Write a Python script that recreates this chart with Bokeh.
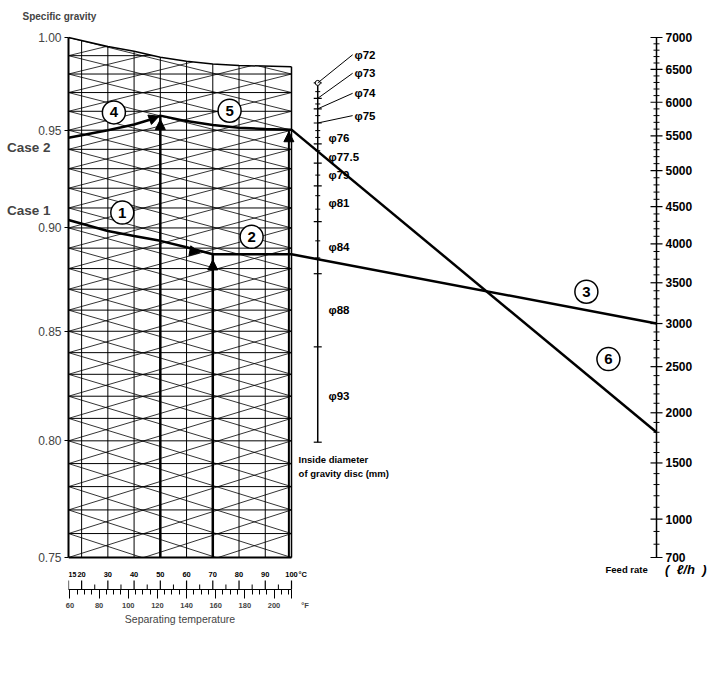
import math
import numpy as np
from bokeh.plotting import figure
from bokeh.models import (Range1d, LinearAxis, FixedTicker, CustomJSTickFormatter, Arrow, NormalHead)
from bokeh.core.properties import value
from bokeh.embed import file_html
from bokeh.resources import INLINE

FONT = "Liberation Sans"
NBSP = "\u00a0"

# specific gravity scale (log) and chart grid
sg_ticks = [0.75, 0.80, 0.85, 0.90, 0.95, 1.00]
sg_rows = [0.76, 0.77, 0.78, 0.79, 0.80, 0.81, 0.82, 0.83, 0.84, 0.85, 0.86, 0.87,
           0.88, 0.89, 0.90, 0.91, 0.92, 0.93, 0.94, 0.95, 0.96, 0.97, 0.98, 0.99]
hatch_rows = [0.72, 0.73, 0.74, 0.75] + sg_rows + [1.00, 1.01, 1.02]
hatch_drop = 0.03
grid_temps = [20, 30, 40, 50, 60, 70, 80, 90]

# upper boundary of the chart (sg vs temperature)
top_t = [15, 30, 40, 50, 60, 70, 80, 100]
top_sg = [1.000, 0.9950, 0.9924, 0.9891, 0.9870, 0.9855, 0.9846, 0.9840]

# temperature scales
temp_c_major = [15, 20, 30, 40, 50, 60, 70, 80, 90, 100]
temp_c_minor = [25, 35, 45, 55, 65, 75, 85, 95]
temp_f_major = [60, 80, 100, 120, 140, 160, 180, 200, 212]
temp_f_minor = [65, 70, 75, 85, 90, 95, 105, 110, 115, 125, 130, 135, 145, 150, 155,
                165, 170, 175, 185, 190, 195, 205, 210]

# feed rate scale (l/h)
feed_major = [700, 1000, 1500, 2000, 2500, 3000, 3500, 4000, 4500, 5000, 5500, 6000, 6500, 7000]
feed_minor = [q for q in range(800, 7000, 100) if q % 500 != 0]

# gravity disc scale, read as positions on the sg scale
disc_major_sg = [0.9752, 0.9669, 0.9613, 0.9538, 0.9428, 0.9329, 0.9212, 0.9032, 0.8775, 0.8427, 0.7994]
disc_minor_sg = [0.9705, 0.9639, 0.9577, 0.9498, 0.9462, 0.9393, 0.9267, 0.9162, 0.9094, 0.8936, 0.8852]
disc_labels = ["φ72", "φ73", "φ74", "φ75", "φ76", "φ77.5", "φ79", "φ81", "φ84", "φ88", "φ93"]
disc_label_sg = [0.9905, 0.9804, 0.9696, 0.9577, 0.9457, 0.9362, 0.9267, 0.9125, 0.8906, 0.8599, 0.8203]

# worked examples
case_names = ["Case 2", "Case 1"]
case_label_sg = [0.9410, 0.9085]
case1_t = [15, 30, 40, 50, 60, 70, 100]
case1_sg = [0.904, 0.8985, 0.896, 0.8936, 0.8904, 0.887, 0.887]
case1_temp = 70
case1_feed = 3000
case2_t = [15, 30, 40, 46, 50]
case2_sg = [0.946, 0.950, 0.953, 0.9555, 0.9577]
case2b_t = [50, 60, 70, 80, 90, 100]
case2b_sg = [0.9577, 0.9548, 0.9527, 0.9513, 0.9506, 0.9503]
case2_temp = 50
case2_feed = 1800

T_MIN, T_MAX = 15, 100
BOX_W = 223                      # px between 15 and 100 degC
FRAME_W, CHART_H = 652, 520      # px; CHART_H spans sg 0.75 .. 1.00
FLOOR_GAP, ROOF_GAP = 32, 8      # px of frame below sg 0.75 and above sg 1.00
T_END = T_MIN + FRAME_W * (T_MAX - T_MIN) / BOX_W
T_FEED = 239.13                  # feed rate scale
DISC_T = 110                     # gravity disc scale
K = math.log(1 / 0.75) / CHART_H


def dx(px):
    return px * (T_MAX - T_MIN) / BOX_W


def sg_below(px):
    # sg-scale position a number of pixels under the chart floor
    return 0.75 * math.exp(-px * K)


def feed_pos(q):
    return q ** (2 / 3)


def feed_to_sg(q):
    frac = (feed_pos(q) - feed_pos(700)) / (feed_pos(7000) - feed_pos(700))
    return math.exp(math.log(0.75) * (1 - frac))


def top_at(t):
    return np.interp(t, top_t, top_sg)


def clip_hatch(y0, y1):
    # keep the part of a hatch line (15 -> 100 degC) lying inside the chart box
    s = np.linspace(0, 1, 801)
    t = T_MIN + (T_MAX - T_MIN) * s
    ly = math.log(y0) + (math.log(y1) - math.log(y0)) * s
    inside = np.nonzero((ly >= math.log(0.75)) & (ly <= np.log(top_at(t))))[0]
    if len(inside) < 2:
        return None
    i0, i1 = inside[0], inside[-1]
    return t[i0], math.exp(ly[i0]), t[i1], math.exp(ly[i1])


Y_BOTTOM = sg_below(FLOOR_GAP)
Y_TOP = math.exp(ROOF_GAP * K)

p = figure(width=720, height=29 + CHART_H + FLOOR_GAP + ROOF_GAP + 45,
           x_range=Range1d(T_MIN, T_END), y_range=Range1d(Y_BOTTOM, Y_TOP),
           y_axis_type="log", x_axis_location=None, output_backend="svg", toolbar_location=None,
           min_border_left=68, min_border_right=0, min_border_top=29, min_border_bottom=45)
p.outline_line_color = None
p.grid.visible = False

p.title.text = "Specific gravity"
p.title.align = "left"
p.title.offset = -46
p.title.standoff = 15
p.title.text_font = FONT
p.title.text_font_size = "10px"
p.title.text_font_style = "bold"

# left axis: specific gravity
ya = p.yaxis[0]
ya.ticker = FixedTicker(ticks=sg_ticks)
ya.formatter = CustomJSTickFormatter(code="return tick.toFixed(2)")
ya.bounds = (0.75, 1.0)
ya.axis_line_width = 2
ya.major_tick_out = 4
ya.major_tick_in = 0
ya.minor_tick_out = 0
ya.minor_tick_in = 0
ya.major_label_standoff = 3
ya.major_label_text_font = FONT
ya.major_label_text_font_size = "12px"

# case names, tucked in next to the sg labels
case_ax = LinearAxis(ticker=FixedTicker(ticks=case_label_sg),
                     major_label_overrides=dict(zip(case_label_sg, case_names)),
                     axis_line_color=None, major_tick_line_color=None,
                     major_tick_out=0, major_tick_in=0, minor_tick_out=0, minor_tick_in=0,
                     major_label_standoff=-15, major_label_text_font=FONT,
                     major_label_text_font_size="13.5px", major_label_text_font_style="bold")
p.add_layout(case_ax, "left")

# fahrenheit scale under the temperature line
p.extra_x_ranges = {"degF": Range1d(T_MIN * 1.8 + 32, T_END * 1.8 + 32)}
ax_f = LinearAxis(x_range_name="degF",
                  ticker=FixedTicker(ticks=temp_f_major, minor_ticks=temp_f_minor),
                  bounds=(59, 212), major_label_overrides={212: NBSP * 13 + "°F"},
                  axis_line_width=1.2,
                  major_tick_out=9, major_tick_in=0, minor_tick_out=5, minor_tick_in=0,
                  major_label_standoff=2, major_label_text_font=FONT,
                  major_label_text_font_size="7.5px", major_label_text_font_style="bold")
p.add_layout(ax_f, "below")

# scale title, centred under the temperature scale
ax_sep = LinearAxis(ticker=FixedTicker(ticks=[57.5]),
                    major_label_overrides={57.5: "Separating temperature"},
                    axis_line_color=None, major_tick_line_color=None,
                    major_tick_out=0, major_tick_in=0, minor_tick_out=0, minor_tick_in=0,
                    major_label_standoff=0, major_label_text_font=FONT,
                    major_label_text_font_size="10.5px")
p.add_layout(ax_sep, "below")

# chart grid, cut at the top curve
p.segment(x0=T_MIN, y0=sg_rows, x1=T_MAX, y1=sg_rows, line_color="black", line_width=1)
p.segment(x0=grid_temps, y0=0.75, x1=grid_temps, y1=[float(top_at(t)) for t in grid_temps],
          line_color="black", line_width=1)
hatch = [clip_hatch(s, s + d) for s in hatch_rows for d in (-hatch_drop, hatch_drop)]
hatch = [h for h in hatch if h is not None]
p.segment(x0=[h[0] for h in hatch], y0=[h[1] for h in hatch],
          x1=[h[2] for h in hatch], y1=[h[3] for h in hatch],
          line_color="black", line_width=0.8)

# blank out above the top curve, then draw the box edges
p.patch(x=top_t + [T_MAX + 0.5, T_MAX + 0.5, T_MIN], y=top_sg + [top_sg[-1], Y_TOP, Y_TOP],
        fill_color="white", line_color=None)
p.line(top_t, top_sg, line_color="black", line_width=1.5)
p.segment(x0=T_MAX, y0=0.75, x1=T_MAX, y1=top_sg[-1], line_color="black", line_width=1.5)
p.segment(x0=T_MIN, y0=0.75, x1=T_MAX, y1=0.75, line_color="black", line_width=2)

# celsius ticks and labels above the temperature line
p.segment(x0=temp_c_major, y0=Y_BOTTOM, x1=temp_c_major, y1=sg_below(FLOOR_GAP - 9),
          line_color="black", line_width=1.2)
p.segment(x0=temp_c_minor, y0=Y_BOTTOM, x1=temp_c_minor, y1=sg_below(FLOOR_GAP - 5),
          line_color="black", line_width=1)
p.text(x=[T_MIN], y=[sg_below(17)], text=[str(temp_c_major[0])],
       text_font=value(FONT), text_font_size="7px", text_font_style="bold",
       text_align="left", text_baseline="middle", text_color="black")
p.text(x=temp_c_major[1:], y=sg_below(17), text=[str(t) for t in temp_c_major[1:]],
       text_font=value(FONT), text_font_size="7.5px", text_font_style="bold",
       text_align="center", text_baseline="middle", text_color="black")
p.text(x=[T_MAX + dx(7)], y=[sg_below(17)], text=["°C"], text_font=value(FONT),
       text_font_size="7.5px", text_font_style="bold", text_align="left",
       text_baseline="middle", text_color="black")

# feed rate scale
feed_major_sg = [feed_to_sg(q) for q in feed_major]
feed_minor_sg = [feed_to_sg(q) for q in feed_minor]
p.segment(x0=T_FEED, y0=feed_major_sg[0], x1=T_FEED, y1=feed_major_sg[-1], line_color="black", line_width=1.5)
p.segment(x0=T_FEED - dx(6), y0=feed_major_sg, x1=T_FEED + dx(6), y1=feed_major_sg,
          line_color="black", line_width=1.2)
p.segment(x0=T_FEED - dx(3), y0=feed_minor_sg, x1=T_FEED + dx(3), y1=feed_minor_sg,
          line_color="black", line_width=1)
p.text(x=T_FEED + dx(9), y=feed_major_sg, text=[str(q) for q in feed_major],
       text_font=value(FONT), text_font_size="12px", text_font_style="bold",
       text_align="left", text_baseline="middle", text_color="black")
p.text(x=[219.7], y=[sg_below(11.5)], text=["Feed rate"], text_font=value(FONT),
       text_font_size="9.5px", text_font_style="bold", text_align="left",
       text_baseline="middle", text_color="black")
p.text(x=[242.4], y=[sg_below(11.5)], text=["(" + NBSP * 2 + "ℓ/h" + NBSP * 2 + ")"],
       text_font=value(FONT), text_font_size="13px", text_font_style="bold italic",
       text_align="left", text_baseline="middle", text_color="black")

# case 1
p.line(case1_t, case1_sg, line_color="black", line_width=2.5)
p.segment(x0=case1_temp, y0=0.75, x1=case1_temp, y1=case1_sg[-1], line_color="black", line_width=2.5)
p.line([T_MAX, T_FEED], [case1_sg[-1], feed_to_sg(case1_feed)], line_color="black", line_width=2.5)

# case 2
p.line(case2_t, case2_sg, line_color="black", line_width=2.5)
p.line(case2b_t, case2b_sg, line_color="black", line_width=2.5)
p.segment(x0=case2_temp, y0=0.75, x1=case2_temp, y1=case2_sg[-1], line_color="black", line_width=2.5)
p.segment(x0=99, y0=0.75, x1=99, y1=case2b_sg[-1], line_color="black", line_width=2)
p.line([T_MAX, T_FEED], [case2b_sg[-1], feed_to_sg(case2_feed)], line_color="black", line_width=2.5)

# arrow heads
arrows = [
    (58, 0.8895, 65, 0.8878),
    (case1_temp, 0.875, case1_temp, 0.8842),
    (44, 0.9545, 49.5, 0.9574),
    (case2_temp, 0.945, case2_temp, 0.9556),
    (99, 0.940, 99, 0.9492),
]
for xs, ys, xe, ye in arrows:
    p.add_layout(Arrow(end=NormalHead(size=10, fill_color="black", line_color="black"),
                       x_start=xs, y_start=ys, x_end=xe, y_end=ye, line_color=None))

# gravity disc scale
p.segment(x0=DISC_T, y0=disc_major_sg[-1], x1=DISC_T, y1=disc_major_sg[0], line_color="black", line_width=1.5)
p.segment(x0=DISC_T - dx(4), y0=disc_major_sg, x1=DISC_T + dx(4), y1=disc_major_sg, line_color="black", line_width=1.2)
p.segment(x0=DISC_T - dx(2.5), y0=disc_minor_sg, x1=DISC_T + dx(2.5), y1=disc_minor_sg, line_color="black", line_width=1)
p.scatter([DISC_T], [disc_major_sg[0]], size=5, fill_color="white", line_color="black")
p.segment(x0=DISC_T, y0=disc_major_sg[:4], x1=123.3, y1=disc_label_sg[:4], line_color="black", line_width=1)
p.text(x=[124.0] * 4 + [114.1] * 7, y=disc_label_sg, text=disc_labels,
       text_font=value(FONT), text_font_size="11.5px", text_font_style="bold",
       text_baseline="middle", text_align="left", text_color="black")
p.text(x=[102.7, 102.7], y=[0.7918, 0.7855], text=["Inside diameter", "of gravity disc (mm)"],
       text_font=value(FONT), text_font_size="9.5px", text_font_style="bold",
       text_baseline="middle", text_align="left", text_color="black")

# circled step numbers
step_t = [35.5, 84.8, 212.4, 32.3, 76.4, 220.8]
step_sg = [0.9077, 0.8956, 0.8688, 0.9594, 0.9603, 0.8370]
step_text = ["1", "2", "3", "4", "5", "6"]
p.scatter(step_t, step_sg, size=23, fill_color="white", line_color="black", line_width=1.5)
p.text(x=step_t, y=step_sg, text=step_text, text_font=value(FONT), text_font_size="15px",
       text_font_style="bold", text_align="center", text_baseline="middle", text_color="black")

open("out.html", "w").write(file_html(p, INLINE))
